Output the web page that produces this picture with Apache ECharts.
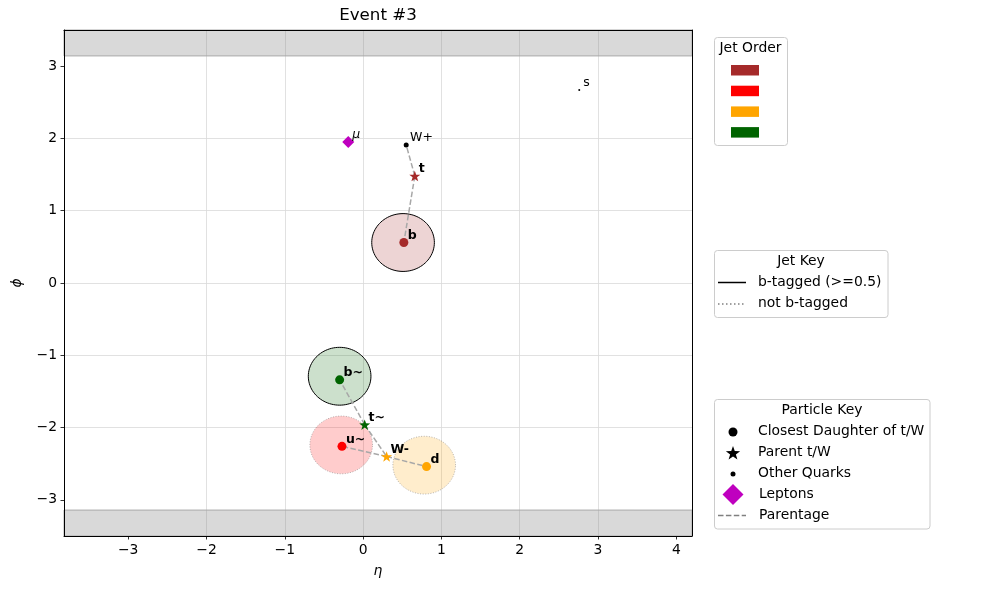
<!DOCTYPE html>
<html lang="en">
<head>
    <meta charset="UTF-8">
    <title>Event #3</title>
    <script src="https://cdn.jsdelivr.net/npm/echarts@6/dist/echarts.min.js"></script>
</head>
<body style="margin:0">
<div id="demo" style="width: 990px; height: 590px;"></div>
<script type="text/javascript">
// jets (pt order), radius 0.4
var jetEta = [0.51, -0.28, 0.78, -0.30];
var jetPhi = [0.56, -2.24, -2.52, -1.29];
var jetBtag = [1, 0, 0, 1];
var jetColors = ['#a52a2a', '#ff0000', '#ffa500', '#006400'];
var jetR = 0.4;

// closest daughters of t/W, coloured by their jet
var daughterNames = ['b', 'u~', 'd', 'b~'];
var daughterEta = [0.52, -0.27, 0.81, -0.30];
var daughterPhi = [0.56, -2.26, -2.54, -1.34];
var daughterJet = [0, 1, 2, 3];

// parent t/W
var parentNames = ['t', 'W-', 't~'];
var parentEta = [0.66, 0.30, 0.02];
var parentPhi = [1.48, -2.40, -1.96];
var parentJet = [0, 2, 3];

// other quarks
var otherNames = ['W+', 's'];
var otherEta = [0.55, 2.76];
var otherPhi = [1.91, 2.67];
var otherSize = [5, 2];

// leptons
var leptonNames = ['\u03bc'];
var leptonEta = [-0.19];
var leptonPhi = [1.95];

// parentage
var links = [['t', 'W+'], ['t', 'b'], ['t~', 'b~'], ['t~', 'W-'], ['W-', 'u~'], ['W-', 'd']];

var xTicks = [-3, -2, -1, 0, 1, 2, 3, 4];
var yTicks = [-3, -2, -1, 0, 1, 2, 3];

var jetKeyLabels = ['b-tagged (>=0.5)', 'not b-tagged'];
var particleKeyLabels = ['Closest Daughter of t/W', 'Parent t/W', 'Other Quarks', 'Leptons', 'Parentage'];

var FONT = 'DejaVu Sans';
var STAR = 'path://M0,-10 L2.35,-3.24 L9.51,-3.09 L3.8,1.24 L5.88,8.09 L0,4 L-5.88,8.09 L-3.8,1.24 L-9.51,-3.09 L-2.35,-3.24 Z';

function rgba(hex, a) {
    var n = parseInt(hex.slice(1), 16);
    return 'rgba(' + (n >> 16) + ',' + ((n >> 8) & 255) + ',' + (n & 255) + ',' + a + ')';
}
function minus(v) { return String(v).replace('-', '\u2212'); }
function starPts(cx, cy, R) {
    var p = [];
    for (var k = 0; k < 10; k++) {
        var a = -Math.PI / 2 + k * Math.PI / 5;
        var rr = k % 2 ? R * 0.4 : R;
        p.push([cx + rr * Math.cos(a), cy + rr * Math.sin(a)]);
    }
    return p;
}

// positions of every named particle, for parentage lines
var pos = {};
daughterNames.forEach(function (n, i) { pos[n] = [daughterEta[i], daughterPhi[i]]; });
parentNames.forEach(function (n, i) { pos[n] = [parentEta[i], parentPhi[i]]; });
otherNames.forEach(function (n, i) { pos[n] = [otherEta[i], otherPhi[i]]; });

var jetData = jetEta.map(function (e, i) { return [e, jetPhi[i], jetR, i, jetBtag[i]]; });
var labelData = [];
daughterNames.forEach(function (n, i) { labelData.push([daughterEta[i], daughterPhi[i], n, 'bold', 'normal']); });
parentNames.forEach(function (n, i) { labelData.push([parentEta[i], parentPhi[i], n, 'bold', 'normal']); });
otherNames.forEach(function (n, i) { labelData.push([otherEta[i], otherPhi[i], n, 'normal', 'normal']); });
leptonNames.forEach(function (n, i) { labelData.push([leptonEta[i], leptonPhi[i], n, 'normal', 'italic']); });

var myChart = echarts.init(document.getElementById('demo'));

// legend boxes
var g = [];
function box(x, y, w, h) {
    g.push({type: 'rect', shape: {x: x, y: y, width: w, height: h, r: 3},
        style: {fill: '#fff', stroke: '#cccccc', lineWidth: 1}, z: 10});
}
function txt(s, x, y, align) {
    g.push({type: 'text', x: x, y: y, z: 11, style: {text: s, fill: '#000', font: '13.9px ' + FONT,
        textAlign: align || 'left', align: align || 'left', textVerticalAlign: 'middle', verticalAlign: 'middle'}});
}
g.push({type: 'text', x: 378, y: 16, z: 11, style: {text: 'Event #3', fill: '#000', font: '16.7px ' + FONT,
    textAlign: 'center', align: 'center', textVerticalAlign: 'middle', verticalAlign: 'middle'}});

box(714.5, 37.5, 73, 108);
txt('Jet Order', 750.5, 48, 'center');
jetColors.forEach(function (c, i) {
    g.push({type: 'rect', shape: {x: 731, y: 65 + i * 20.7, width: 28, height: 10.5}, style: {fill: c}, z: 11});
});

box(714.5, 250.5, 173.5, 67);
txt('Jet Key', 801, 261, 'center');
g.push({type: 'line', shape: {x1: 718, y1: 282.5, x2: 746, y2: 282.5}, style: {stroke: '#000', lineWidth: 1.5}, z: 11});
g.push({type: 'line', shape: {x1: 718, y1: 304, x2: 746, y2: 304}, style: {stroke: '#808080', lineWidth: 1.5, lineDash: [1.5, 2.5]}, z: 11});
txt(jetKeyLabels[0], 758, 282.5);
txt(jetKeyLabels[1], 758, 303.5);

box(714.5, 399.5, 215.5, 129.5);
txt('Particle Key', 822, 410, 'center');
g.push({type: 'circle', shape: {cx: 733, cy: 432, r: 4.5}, style: {fill: '#000'}, z: 11});
g.push({type: 'polygon', shape: {points: starPts(733, 453.5, 7.5)}, style: {fill: '#000'}, z: 11});
g.push({type: 'circle', shape: {cx: 733, cy: 474, r: 2.5}, style: {fill: '#000'}, z: 11});
g.push({type: 'polygon', shape: {points: [[733, 484], [743.5, 494.5], [733, 505], [722.5, 494.5]]}, style: {fill: '#bf00bf'}, z: 11});
g.push({type: 'line', shape: {x1: 718, y1: 515.5, x2: 746, y2: 515.5}, style: {stroke: '#808080', lineWidth: 1.5, lineDash: [5.5, 2.4]}, z: 11});
particleKeyLabels.forEach(function (s, i) { txt(s, i < 3 ? 758 : 759, 431.5 + i * 21); });

// kind: 'main' = frame line + ticks + labels, 'frame' = frame line only, 'grid' = split lines only
function xAx(pos, kind) {
    var main = kind === 'main';
    return {
        type: 'value', min: -3.82, max: 4.2, splitNumber: 8, position: pos,
        z: kind === 'grid' ? 0 : 10,
        name: main ? '\u03b7' : '', nameLocation: 'middle', nameGap: 28,
        nameTextStyle: {fontSize: 13.9, fontStyle: 'italic', color: '#000', fontFamily: FONT},
        axisLine: {show: kind !== 'grid', onZero: false, lineStyle: {color: '#000', width: 1}},
        axisTick: {show: main, length: 3.5, lineStyle: {color: '#000', width: 0.8}, customValues: xTicks},
        axisLabel: {show: main, color: '#000', fontSize: 13.9, margin: 7, customValues: xTicks, formatter: minus},
        splitLine: {show: kind === 'grid', showMinLine: false, showMaxLine: false, lineStyle: {color: '#d9d9d9', width: 0.8}}
    };
}
function yAx(pos, kind) {
    var main = kind === 'main';
    return {
        type: 'value', min: -3.5, max: 3.5, splitNumber: 7, position: pos,
        z: kind === 'grid' ? 0 : 10,
        name: main ? '\u03d5' : '', nameLocation: 'middle', nameGap: 40, nameRotate: 90,
        nameTextStyle: {fontSize: 13.9, fontStyle: 'italic', color: '#000', fontFamily: FONT},
        axisLine: {show: kind !== 'grid', onZero: false, lineStyle: {color: '#000', width: 1}},
        axisTick: {show: main, length: 3.5, lineStyle: {color: '#000', width: 0.8}, customValues: yTicks},
        axisLabel: {show: main, color: '#000', fontSize: 13.9, margin: 7, customValues: yTicks, formatter: minus},
        splitLine: {show: kind === 'grid', showMinLine: false, showMaxLine: false, lineStyle: {color: '#d9d9d9', width: 0.8}}
    };
}

var option = {
    animation: false,
    backgroundColor: '#fff',
    textStyle: {fontFamily: FONT},
    grid: {left: 64, top: 30, width: 628, height: 506},
    xAxis: [xAx('bottom', 'main'), xAx('top', 'frame'), xAx('top', 'grid')],
    yAxis: [yAx('left', 'main'), yAx('right', 'frame'), yAx('right', 'grid')],
    graphic: {elements: g},
    series: [
        {
            type: 'custom', z: 1, silent: true,
            data: jetData,
            renderItem: function (params, api) {
                var e = api.value(0), p = api.value(1), r = api.value(2);
                var ci = api.value(3), bt = api.value(4);
                var pts = [];
                for (var k = 0; k < 96; k++) {
                    var a = k / 96 * Math.PI * 2;
                    pts.push(api.coord([e + r * Math.cos(a), p + r * Math.sin(a)]));
                }
                return {
                    type: 'polygon', shape: {points: pts},
                    style: {
                        fill: rgba(jetColors[ci], 0.2),
                        stroke: bt ? '#000' : 'rgba(128,128,128,0.55)',
                        lineWidth: 1,
                        lineDash: bt ? null : [1, 1.6]
                    }
                };
            }
        },
        {
            type: 'line', z: 0, silent: true, data: [],
            markArea: {
                silent: true,
                itemStyle: {color: 'rgba(128,128,128,0.3)', borderColor: '#aaaaaa', borderWidth: 1},
                data: [
                    [{yAxis: Math.PI}, {yAxis: 3.5}],
                    [{yAxis: -3.5}, {yAxis: -Math.PI}]
                ]
            }
        },
        {
            type: 'lines', coordinateSystem: 'cartesian2d', z: 2, silent: true,
            lineStyle: {color: '#a8a8a8', width: 1.5, type: [5.5, 2.4], opacity: 1},
            data: links.map(function (l) { return {coords: [pos[l[0]], pos[l[1]]]}; })
        },
        {
            type: 'scatter', z: 3, symbol: 'circle', symbolSize: 9,
            data: daughterEta.map(function (e, i) {
                return {value: [e, daughterPhi[i]], itemStyle: {color: jetColors[daughterJet[i]], opacity: 1}};
            })
        },
        {
            type: 'scatter', z: 3, symbol: STAR, symbolSize: [11, 10.5],
            data: parentEta.map(function (e, i) {
                return {value: [e, parentPhi[i]], itemStyle: {color: jetColors[parentJet[i]], opacity: 1}};
            })
        },
        {
            type: 'scatter', z: 3, symbol: 'circle', itemStyle: {color: '#000', opacity: 1},
            data: otherEta.map(function (e, i) {
                return {value: [e, otherPhi[i]], symbolSize: otherSize[i]};
            })
        },
        {
            type: 'scatter', z: 3, symbol: 'diamond', symbolSize: [12, 12], itemStyle: {color: '#bf00bf', opacity: 1},
            data: leptonEta.map(function (e, i) { return [e, leptonPhi[i]]; })
        },
        {
            type: 'custom', z: 4, silent: true,
            data: labelData,
            renderItem: function (params, api) {
                var d = labelData[params.dataIndex];
                var c = api.coord([d[0] + 0.05, d[1] + 0.05]);
                return {
                    type: 'text', x: c[0], y: c[1] + 3,
                    style: {
                        text: d[2], fill: '#000',
                        font: d[4] + ' ' + d[3] + ' 12.5px ' + FONT,
                        textAlign: 'left', align: 'left',
                        textVerticalAlign: 'bottom', verticalAlign: 'bottom'
                    }
                };
            }
        }
    ]
};
myChart.setOption(option);
</script>
</body>
</html>
